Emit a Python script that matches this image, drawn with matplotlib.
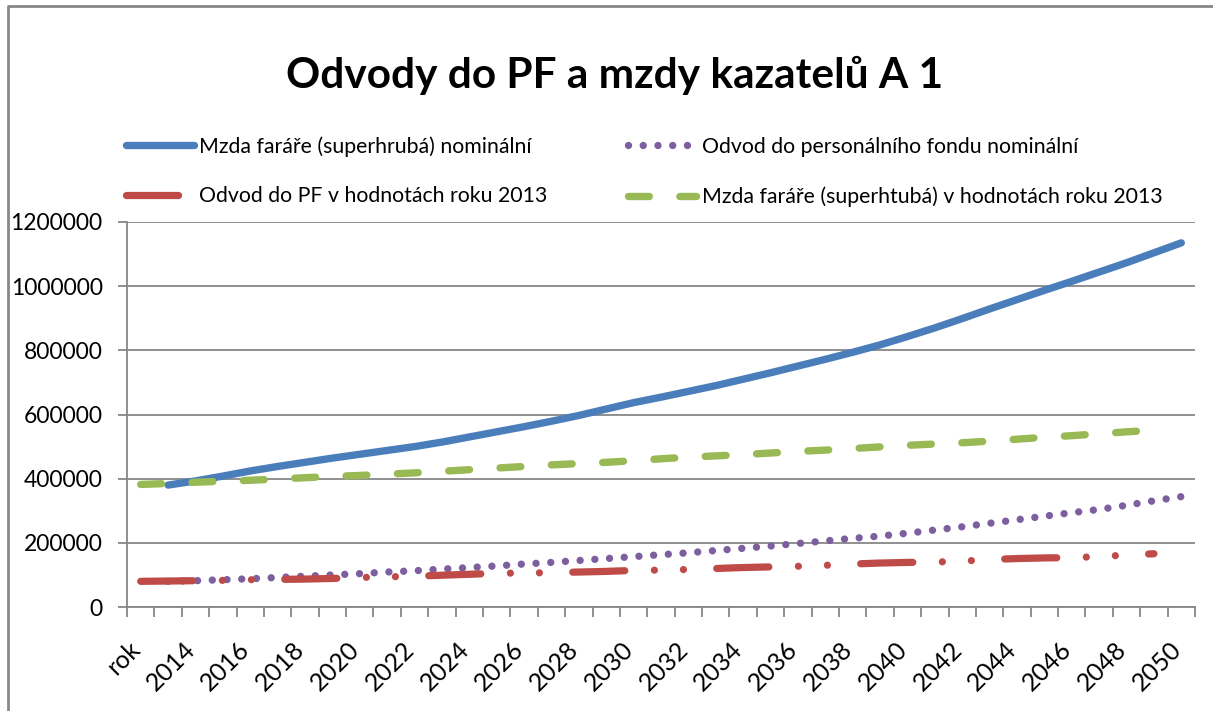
import numpy as np
import matplotlib
matplotlib.use('Agg')
import matplotlib.pyplot as plt
import matplotlib.transforms as mtrans
from matplotlib.lines import Line2D

plt.rcParams['font.family'] = ['Lato', 'DejaVu Sans']
plt.rcParams['lines.scale_dashes'] = False

# categories on the x axis: "rok" header cell followed by years
categories = ['rok'] + [str(y) for y in range(2013, 2051)]

# nominal series start at 2013 (index 1)
mzda_nominal = [380000, 393000, 408000, 424000, 438000, 451000, 464000, 476000, 488000, 500000,
                514000, 530000, 546000, 562000, 579000, 597000, 617000, 637000, 654000, 672000,
                690000, 710000, 730000, 751000, 772000, 794000, 817000, 843000, 870000, 899000,
                929000, 958000, 987000, 1015000, 1044000, 1073000, 1104000, 1135000]
odvod_nominal = [80000, 82000, 85000, 88000, 92000, 96000, 100000, 104000, 109000, 113000,
                 118000, 123000, 128000, 134000, 139000, 145000, 151000, 157000, 163000, 169000,
                 176000, 183000, 190000, 198000, 206000, 214000, 221000, 230000, 240000, 250000,
                 261000, 272000, 283000, 294000, 304000, 317000, 331000, 344000]

# series in 2013 values start at the "rok" position (index 0)
odvod_2013 = [80000, 81000, 82000, 83000, 85000, 86000, 87000, 89000, 92000, 94000,
              96000, 99000, 102000, 105000, 106000, 107000, 109000, 111000, 114000, 115000,
              117000, 120000, 123000, 125000, 127000, 130000, 134000, 137000, 139000, 140000,
              143000, 148000, 151000, 153000, 154000, 157000, 162000, 166000]
mzda_2013 = [382000, 385000, 389000, 392000, 395000, 399000, 403000, 407000, 410000, 414000,
             418000, 423000, 428000, 433000, 438000, 443000, 447000, 451000, 456000, 462000,
             467000, 471000, 475000, 480000, 485000, 489000, 494000, 499000, 504000, 508000,
             512000, 517000, 523000, 529000, 534000, 540000, 546000, 551000]

labels = ['Mzda faráře (superhrubá) nominální',
          'Odvod do personálního fondu nominální',
          'Odvod do PF v hodnotách roku 2013',
          'Mzda faráře (superhtubá) v hodnotách roku 2013']

x_nom = np.arange(1, 1 + len(mzda_nominal))
x_real = np.arange(0, len(mzda_2013))

W, H = 1213, 711
fig = plt.figure(figsize=(W / 100, H / 100), dpi=100)
ax = fig.add_axes([127 / W, 1 - 607 / H, (1195 - 127) / W, (607 - 222) / H])

grey = '#878787'
l_blue, = ax.plot(x_nom, mzda_nominal, color='#4A7EBB', lw=5.3, solid_capstyle='round', zorder=3)
l_purple, = ax.plot(x_nom, odvod_nominal, color='#7D5FA0', lw=5.3,
                    linestyle=(0, (0.01, 10.6)), dash_capstyle='round', zorder=4)
l_red, = ax.plot(x_real, odvod_2013, color='#BE4B48', lw=5.2,
                 linestyle=(0, (37.5, 21.3, 0.01, 20.9, 0.01, 24)), dash_capstyle='round', zorder=5)
l_green, = ax.plot(x_real, mzda_2013, color='#98B954', lw=5.3,
                   linestyle=(0, (15, 22)), dash_capstyle='round', zorder=6)

ax.set_xlim(-0.5, len(categories) - 0.5)
ax.set_ylim(0, 1200000)
ax.set_yticks(range(0, 1200001, 200000))
ax.set_yticklabels([str(v) for v in range(0, 1200001, 200000)])
ax.yaxis.grid(True, color=grey, lw=1.3)
ax.set_axisbelow(True)

for s in ['top', 'right']:
    ax.spines[s].set_visible(False)
for s in ['left', 'bottom']:
    ax.spines[s].set_color(grey)
    ax.spines[s].set_linewidth(1.3)

# tick marks between categories, labels on every other category
ax.set_xticks(np.arange(-0.5, len(categories)), labels=[])
ax.set_xticks(np.arange(0, len(categories), 2), labels=categories[::2], minor=True)
ax.tick_params(axis='x', which='major', length=7.5, width=1.3, color=grey, direction='out')
ax.tick_params(axis='x', which='minor', length=0, pad=22, labelsize=18)
ax.tick_params(axis='y', length=6.5, width=1.3, color=grey, pad=11, labelsize=16.5)
shift = mtrans.ScaledTranslation(4 / 100, 0, fig.dpi_scale_trans)
for lbl in ax.get_xticklabels(minor=True):
    lbl.set_rotation(45)
    lbl.set_ha('right')
    lbl.set_va('top')
    lbl.set_transform(lbl.get_transform() + shift)

fig.text(0.507, 1 - 88 / H, 'Odvody do PF a mzdy kazatelů A 1', ha='center', va='baseline',
         fontsize=30.5, fontweight='bold')

fig.legend(handles=[l_blue, l_red, l_purple, l_green],
           labels=[labels[0], labels[2], labels[1], labels[3]],
           loc='upper left', bbox_to_anchor=(126 / W, 1 - 136 / H), ncol=2, frameon=False,
           fontsize=15.3, handlelength=3.2, handletextpad=0.25, columnspacing=3.8,
           labelspacing=1.4, borderpad=0, borderaxespad=0)

# chart area border (only top and left edges are inside the picture)
fig.add_artist(Line2D([8 / W, 8 / W, 1.0], [0, 1 - 6 / H, 1 - 6 / H],
                      transform=fig.transFigure, color=grey, lw=2))

fig.savefig('out.png', dpi=100)
